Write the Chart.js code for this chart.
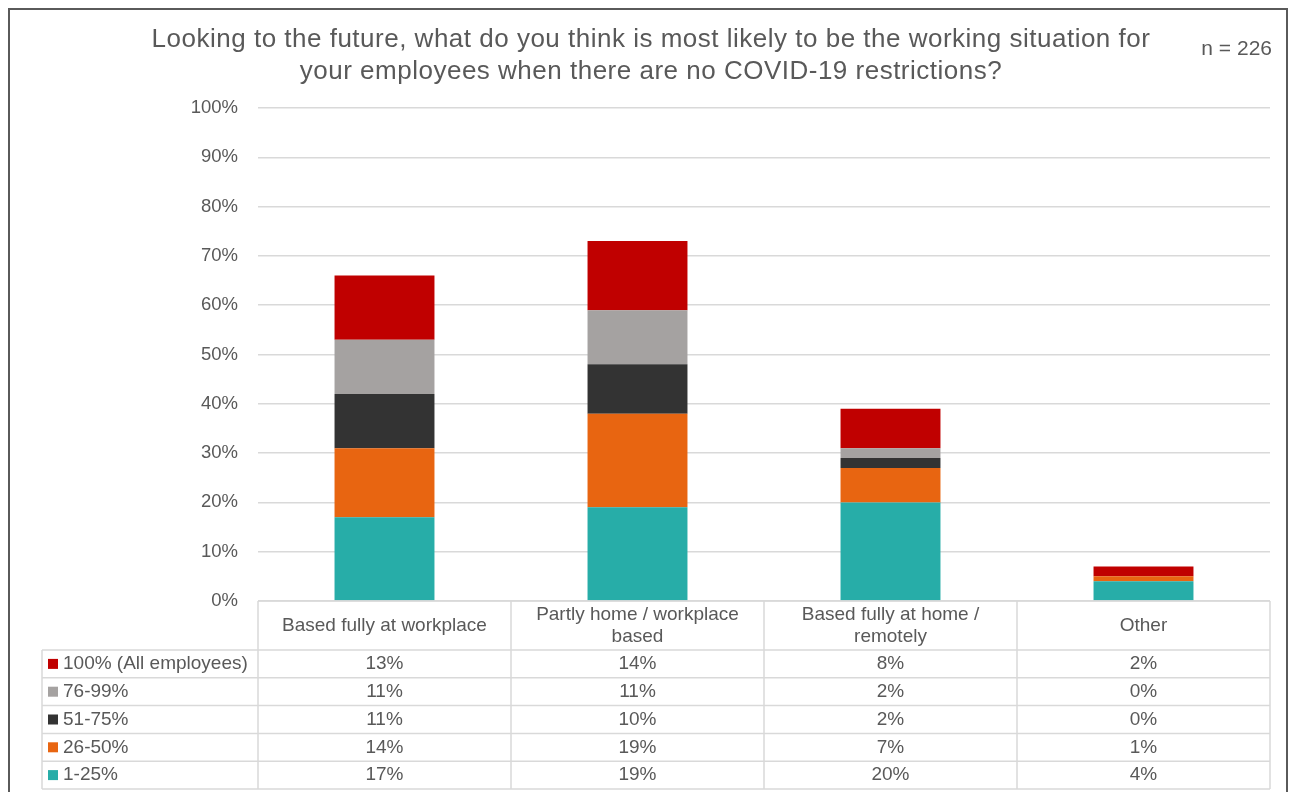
<!DOCTYPE html>
<html>
<head>
<meta charset="utf-8">
<title>Working situation after COVID-19 restrictions</title>
<script src="https://cdn.jsdelivr.net/npm/chart.js@4/dist/chart.umd.min.js"></script>
<style>
  html, body { margin: 0; padding: 0; background: #fff; }
  #wrap { position: relative; width: 1296px; height: 792px; }
</style>
</head>
<body>
<div id="wrap"><canvas id="chart" width="1296" height="792"></canvas></div>
<script>
// survey answers, % of respondents
var categories = ['Based fully at workplace', 'Partly home / workplace based', 'Based fully at home / remotely', 'Other'];
var bandLabels = ['1-25%', '26-50%', '51-75%', '76-99%', '100% (All employees)'];
var band1to25 = [17, 19, 20, 4];
var band26to50 = [14, 19, 7, 1];
var band51to75 = [11, 10, 2, 0];
var band76to99 = [11, 11, 2, 0];
var band100 = [13, 14, 8, 2];
var yTicks = [0, 10, 20, 30, 40, 50, 60, 70, 80, 90, 100];

var titleLines = ['Looking to the future, what do you think is most likely to be the working situation for',
  'your employees when there are no COVID-19 restrictions?'];
var sampleNote = 'n = 226';

var teal = '#27ada8';
var orange = '#e86511';
var dark = '#333333';
var grey = '#a5a2a1';
var red = '#c00000';
var textGrey = '#595959';
var lineGrey = '#d9d9d9';
var font = '"Liberation Sans", Arial, sans-serif';

var seriesValues = [band1to25, band26to50, band51to75, band76to99, band100];
var seriesColors = [teal, orange, dark, grey, red];

var datasets = seriesValues.map(function (vals, i) {
  return {
    label: bandLabels[i],
    data: vals,
    backgroundColor: seriesColors[i],
    borderWidth: 0,
    categoryPercentage: 1,
    barPercentage: 0.395
  };
});

function wrapText(ctx, text, maxW) {
  var words = text.split(' ');
  var lines = [];
  var cur = '';
  words.forEach(function (w) {
    var test = cur ? cur + ' ' + w : w;
    if (ctx.measureText(test).width > maxW && cur) {
      lines.push(cur);
      cur = w;
    } else {
      cur = test;
    }
  });
  if (cur) lines.push(cur);
  return lines;
}

// title, frame, and the data table under the bars
var decorations = {
  id: 'decorations',
  afterDraw: function (chart) {
    var ctx = chart.ctx;
    var area = chart.chartArea;
    var n = categories.length;
    var colW = (area.right - area.left) / n;
    var headTop = area.bottom;
    var headBottom = headTop + 49;
    var rowH = 27.8;
    var keyLeft = 42;
    var rows = bandLabels.length;
    var tableBottom = headBottom + rowH * rows;

    ctx.save();

    // outer frame
    ctx.strokeStyle = '#5a5a5a';
    ctx.lineWidth = 2;
    ctx.strokeRect(9, 9, 1278, 800);

    // title
    ctx.fillStyle = textGrey;
    ctx.font = '26px ' + font;
    ctx.letterSpacing = '0.5px';
    ctx.textAlign = 'center';
    ctx.textBaseline = 'middle';
    ctx.fillText(titleLines[0], 651, 40);
    ctx.fillText(titleLines[1], 651, 72);
    ctx.letterSpacing = '0px';

    ctx.font = '21px ' + font;
    ctx.textAlign = 'right';
    ctx.fillText(sampleNote, 1272, 49);

    // table grid
    ctx.strokeStyle = lineGrey;
    ctx.lineWidth = 1.5;
    ctx.beginPath();
    ctx.moveTo(area.left, headTop);
    ctx.lineTo(area.right, headTop);
    for (var r = 0; r <= rows; r++) {
      var yy = headBottom + r * rowH;
      ctx.moveTo(keyLeft, yy);
      ctx.lineTo(area.right, yy);
    }
    for (var c = 0; c <= n; c++) {
      var xx = area.left + c * colW;
      ctx.moveTo(xx, headTop);
      ctx.lineTo(xx, tableBottom);
    }
    ctx.moveTo(keyLeft, headBottom);
    ctx.lineTo(keyLeft, tableBottom);
    ctx.stroke();

    // column headers
    ctx.fillStyle = textGrey;
    ctx.font = '19px ' + font;
    ctx.textAlign = 'center';
    categories.forEach(function (cat, i) {
      var cx = chart.scales.x.getPixelForValue(i);
      var lines = wrapText(ctx, cat, colW - 24);
      var lh = 22;
      var y0 = (headTop + headBottom) / 2 - (lines.length - 1) * lh / 2;
      lines.forEach(function (ln, k) {
        ctx.fillText(ln, cx, y0 + k * lh);
      });
    });

    // rows: top row is the last series
    for (var r2 = 0; r2 < rows; r2++) {
      var s = rows - 1 - r2;
      var cy = headBottom + r2 * rowH + rowH / 2;
      ctx.fillStyle = seriesColors[s];
      ctx.fillRect(48, cy - 5, 10, 10);
      ctx.fillStyle = textGrey;
      ctx.textAlign = 'left';
      ctx.fillText(bandLabels[s], 63, cy);
      ctx.textAlign = 'center';
      seriesValues[s].forEach(function (v, i) {
        ctx.fillText(v + '%', chart.scales.x.getPixelForValue(i), cy);
      });
    }

    ctx.restore();
  }
};

new Chart(document.getElementById('chart'), {
  type: 'bar',
  data: { labels: categories, datasets: datasets },
  options: {
    responsive: false,
    animation: false,
    layout: { padding: { top: 108, right: 26, bottom: 191, left: 0 } },
    plugins: {
      legend: { display: false },
      tooltip: { enabled: false }
    },
    scales: {
      x: {
        stacked: true,
        display: false
      },
      y: {
        stacked: true,
        min: 0,
        max: 100,
        afterFit: function (scale) { scale.width = 258; },
        afterBuildTicks: function (scale) {
          scale.ticks = yTicks.map(function (v) { return { value: v }; });
        },
        border: { display: false },
        grid: { color: lineGrey, lineWidth: 1.5, drawTicks: false },
        ticks: {
          padding: 20,
          color: textGrey,
          font: { family: font, size: 18.5 },
          callback: function (v) { return v + '%'; }
        }
      }
    }
  },
  plugins: [decorations]
});
</script>
</body>
</html>
